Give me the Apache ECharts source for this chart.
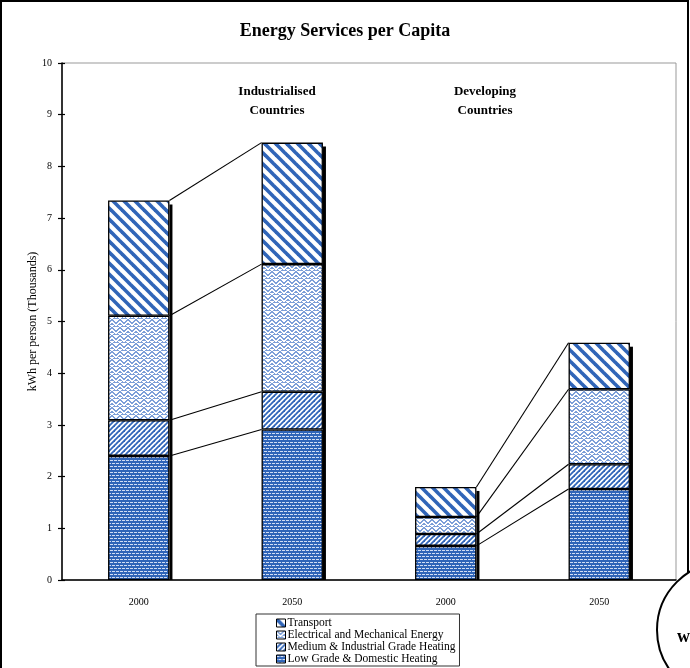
<!DOCTYPE html>
<html>
<head>
<meta charset="utf-8">
<script src="https://cdn.jsdelivr.net/npm/echarts@6/dist/echarts.min.js"></script>
<style>
  html, body { margin: 0; padding: 0; background: #fff; }
  #chart { width: 690px; height: 668px; }
</style>
</head>
<body>
<div id="chart"></div>
<script>
// Categories (two groups of two years each)
const years = ['2000', '2050', '2000', '2050'];
const groupNames = ['Industrialised\nCountries', 'Developing\nCountries'];

// kWh per person (thousands), by end use
const lowGrade   = [2.40, 2.91, 0.66, 1.76];
const medium     = [0.69, 0.73, 0.23, 0.48];
const electrical = [2.02, 2.47, 0.33, 1.45];
const transport  = [2.23, 2.35, 0.58, 0.90];

const seriesNames = [
  'Low Grade & Domestic Heating',
  'Medium & Industrial Grade Heating',
  'Electrical and Mechanical Energy',
  'Transport'
];

const BLUE = '#3065b8';
const FONT = '"Liberation Serif", "Times New Roman", serif';

// ---- fill patterns ----
function makeCanvas(w, h, draw) {
  const c = document.createElement('canvas');
  c.width = w; c.height = h;
  draw(c.getContext('2d'), w, h);
  return c;
}
// wide "\" stripes
const transportPat = makeCanvas(11, 11, (g, w, h) => {
  g.fillStyle = '#fff'; g.fillRect(0, 0, w, h);
  g.strokeStyle = BLUE; g.lineWidth = 3.6;
  for (let k = -1; k <= 1; k++) {
    g.beginPath(); g.moveTo(k * w - 3, -3); g.lineTo(k * w + w + 3, h + 3); g.stroke();
  }
});
// fine "/" stripes
const mediumPat = makeCanvas(5, 5, (g, w, h) => {
  g.fillStyle = '#fff'; g.fillRect(0, 0, w, h);
  g.strokeStyle = BLUE; g.lineWidth = 1.8;
  for (let k = -1; k <= 1; k++) {
    g.beginPath(); g.moveTo(k * w - 2, h + 2); g.lineTo(k * w + w + 2, -2); g.stroke();
  }
});
// light weave
const electricalPat = makeCanvas(8, 8, (g, w, h) => {
  g.fillStyle = '#fff'; g.fillRect(0, 0, w, h);
  g.fillStyle = '#7c9fd8';
  const px = [
    '11000011',
    '01100110',
    '00111100',
    '10011001',
    '11000011',
    '00100100',
    '01111110',
    '10000001'
  ];
  px.forEach((row, y) => {
    for (let x = 0; x < row.length; x++) if (row[x] === '1') g.fillRect(x, y, 1, 1);
  });
});
// solid blue with light dashes
const lowPat = makeCanvas(8, 6, (g, w, h) => {
  g.fillStyle = BLUE; g.fillRect(0, 0, w, h);
  g.fillStyle = '#d2def4';
  g.fillRect(0, 1, 3, 1);
  g.fillRect(4, 1, 3, 1);
  g.fillRect(2, 4, 3, 1);
  g.fillRect(6, 4, 2, 1);
  g.fillRect(0, 4, 1, 1);
});

function pat(c) { return { image: c, repeat: 'repeat' }; }

const fills = [pat(lowPat), pat(mediumPat), pat(electricalPat), pat(transportPat)];
const layers = [lowGrade, medium, electrical, transport];

// cumulative boundaries per category
const cumul = years.map((_, i) => {
  let s = 0;
  return layers.map(arr => (s += arr[i]));
});
const totals = cumul.map(c => c[c.length - 1]);

// connector lines between the two years of each group
const connectorData = [];
[[0, 1], [2, 3]].forEach(([a, b]) => {
  for (let k = 0; k < layers.length; k++) {
    connectorData.push([a, b, cumul[a][k], cumul[b][k]]);
  }
});
const shadowData = totals.map((t, i) => [i, t]);

const BAR_FRAC = 0.4;

const chart = echarts.init(document.getElementById('chart'));

const barSeries = layers.map((arr, k) => ({
  name: seriesNames[k],
  type: 'bar',
  stack: 'total',
  barWidth: (BAR_FRAC * 100) + '%',
  data: arr,
  z: 3,
  itemStyle: { color: fills[k], borderColor: '#000', borderWidth: 1.3 },
  emphasis: { disabled: true },
  animation: false
}));

chart.setOption({
  animation: false,
  textStyle: { fontFamily: FONT },
  title: {
    text: 'Energy Services per Capita',
    left: 'center',
    top: 17,
    textStyle: { fontFamily: FONT, fontSize: 18, fontWeight: 'bold', color: '#000' }
  },
  grid: {
    left: 62, right: 14, top: 63, bottom: 88,
    show: true, borderColor: '#999', borderWidth: 1, backgroundColor: 'transparent'
  },
  legend: {
    data: seriesNames.slice().reverse(),
    orient: 'vertical',
    icon: 'rect',
    left: 256,
    top: 614,
    itemWidth: 9,
    itemHeight: 8,
    itemGap: 0,
    padding: [3, 4, 1, 20],
    borderColor: '#333',
    borderWidth: 1,
    selectedMode: false,
    itemStyle: { borderColor: '#000', borderWidth: 1 },
    textStyle: { fontFamily: FONT, fontSize: 11.5, lineHeight: 9, color: '#000', padding: [0, 0, 0, -3] }
  },
  xAxis: {
    type: 'category',
    data: years,
    axisLine: { lineStyle: { color: '#000', width: 1.5 } },
    axisTick: { show: false },
    axisLabel: { color: '#000', fontFamily: FONT, fontSize: 10, margin: 17 }
  },
  yAxis: [{
    type: 'value',
    min: 0, max: 10, interval: 1,
    name: 'kWh per person (Thousands)',
    nameLocation: 'middle',
    nameGap: 23,
    nameMoveOverlap: false,
    nameTextStyle: { fontFamily: FONT, fontSize: 12, color: '#000' },
    axisLine: { show: true, lineStyle: { color: '#000', width: 1.5 } },
    axisTick: { show: true, length: 4, lineStyle: { color: '#000', width: 1.2 } },
    axisLabel: { color: '#000', fontFamily: FONT, fontSize: 10, margin: 10 },
    splitLine: { show: false }
  }, {
    type: 'value',
    position: 'left',
    min: 0, max: 10, interval: 1,
    axisLine: { show: false },
    axisTick: { show: true, inside: true, length: 3, lineStyle: { color: '#000', width: 1.2 } },
    axisLabel: { show: false },
    splitLine: { show: false }
  }],
  graphic: [
    {
      type: 'rect', silent: true,
      shape: { x: 1, y: 1, width: 687, height: 720 },
      style: { fill: 'none', stroke: '#000', lineWidth: 2 }
    },
    {
      type: 'text', x: 277, y: 82, silent: true,
      style: { text: groupNames[0], font: 'bold 13px ' + FONT, fill: '#000', align: 'center', verticalAlign: 'top', lineHeight: 19 }
    },
    {
      type: 'text', x: 485, y: 82, silent: true,
      style: { text: groupNames[1], font: 'bold 13px ' + FONT, fill: '#000', align: 'center', verticalAlign: 'top', lineHeight: 19 }
    },
    {
      type: 'circle', silent: true,
      shape: { cx: 725, cy: 630, r: 68 },
      style: { fill: '#fff', stroke: '#000', lineWidth: 2 }
    },
    {
      type: 'text', x: 677, y: 628, silent: true,
      style: { text: 'w', font: 'bold 18px ' + FONT, fill: '#000' }
    }
  ],
  series: [
    {
      type: 'custom',
      name: 'shadow',
      data: shadowData,
      encode: { x: 0, y: 1 },
      z: 2,
      silent: true,
      renderItem: (params, api) => {
        const top = api.coord([api.value(0), api.value(1)]);
        const base = api.coord([api.value(0), 0]);
        const hw = api.size([1, 0])[0] * BAR_FRAC / 2;
        return {
          type: 'rect',
          shape: { x: top[0] + hw, y: top[1] + 4, width: 3, height: base[1] - top[1] - 4 },
          style: { fill: '#000' }
        };
      }
    },
    ...barSeries,
    {
      type: 'custom',
      name: 'connectors',
      data: connectorData,
      encode: { x: [0, 1], y: [2, 3] },
      z: 4,
      silent: true,
      renderItem: (params, api) => {
        const p0 = api.coord([api.value(0), api.value(2)]);
        const p1 = api.coord([api.value(1), api.value(3)]);
        const hw = api.size([1, 0])[0] * BAR_FRAC / 2;
        return {
          type: 'line',
          shape: { x1: p0[0] + hw, y1: p0[1], x2: p1[0] - hw, y2: p1[1] },
          style: { stroke: '#000', lineWidth: 1.1 }
        };
      }
    }
  ]
});
</script>
</body>
</html>
